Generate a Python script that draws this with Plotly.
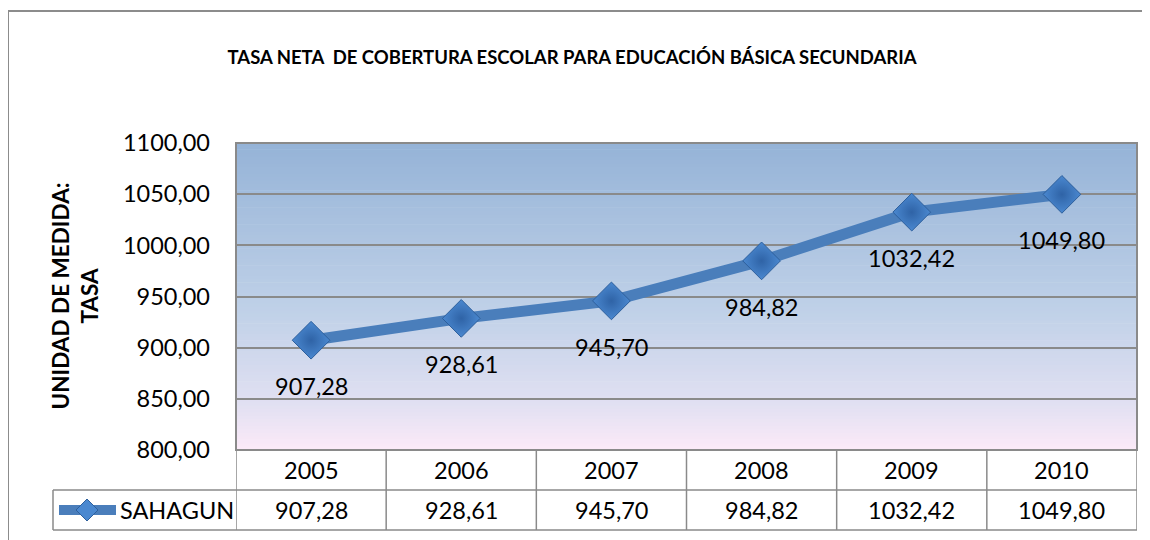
import plotly.graph_objects as go

years = ["2005", "2006", "2007", "2008", "2009", "2010"]
sahagun = [907.28, 928.61, 945.70, 984.82, 1032.42, 1049.80]
series_name = "SAHAGUN"
title_text = "TASA NETA  DE COBERTURA ESCOLAR PARA EDUCACIÓN BÁSICA SECUNDARIA"
ytitle = "UNIDAD DE MEDIDA:<br>TASA"

FONT = "Lato"
OFF = 8  # page body margin
W, H = 1150 - OFF, 540 - OFF
L, R, T, B = 236 - OFF, 13, 143 - OFF, 90
PW, PH = W - L - R, H - T - B


def px_x(x):
    return (x - OFF - L) / PW


def px_y(y):
    return (H - B - (y - OFF)) / PH


def fmt(v):
    return f"{v:.2f}".replace(".", ",")


fig = go.Figure()
fig.add_trace(go.Scatter(
    x=years, y=sahagun, mode="lines+markers", name=series_name,
    line=dict(color="#4A7EBB", width=11),
    marker=dict(symbol="diamond", size=29, color="#4A88D0",
                gradient=dict(type="radial", color="#2F63A6"),
                line=dict(color="#2D5F9C", width=1)),
    showlegend=False, cliponaxis=False,
))

shapes = []
stops = [(0.0, (252, 234, 248)), (0.15, (225, 224, 242)), (0.45, (192, 209, 232)), (1.0, (149, 179, 215))]


def col(t):
    for i in range(len(stops) - 1):
        t0, c0 = stops[i]
        t1, c1 = stops[i + 1]
        if t0 <= t <= t1:
            f = (t - t0) / (t1 - t0)
            return "rgb(%d,%d,%d)" % tuple(round(c0[k] + (c1[k] - c0[k]) * f) for k in range(3))
    return "rgb(%d,%d,%d)" % stops[-1][1]


N = 90
for i in range(N):
    shapes.append(dict(type="rect", xref="x domain", yref="y domain", x0=0, x1=1,
                       y0=i / N, y1=(i + 1) / N + 0.002, fillcolor=col((i + 0.5) / N),
                       line=dict(width=0), layer="below"))

grid = "#8A8A8A"
shapes.append(dict(type="rect", xref="paper", yref="paper", x0=0, x1=1, y0=0, y1=1,
                   line=dict(color=grid, width=2)))
shapes.append(dict(type="line", xref="paper", yref="paper", x0=px_x(8), x1=px_x(8),
                   y0=px_y(11), y1=px_y(560), line=dict(color="#8C8C8C", width=2)))
shapes.append(dict(type="line", xref="paper", yref="paper", x0=px_x(8), x1=px_x(1170),
                   y0=px_y(11), y1=px_y(11), line=dict(color="#8C8C8C", width=2)))

n = len(years)
row1_top, row_mid, row2_bot = 0, px_y(490), px_y(530)
leg_left = px_x(53)
for i in range(n + 1):
    shapes.append(dict(type="line", xref="x", yref="paper", x0=i - 0.5, x1=i - 0.5,
                       y0=row1_top, y1=row2_bot, line=dict(color=grid, width=1.5)))
shapes.append(dict(type="line", xref="paper", yref="paper", x0=leg_left, x1=1,
                   y0=row_mid, y1=row_mid, line=dict(color=grid, width=1.5)))
shapes.append(dict(type="line", xref="paper", yref="paper", x0=leg_left, x1=1,
                   y0=row2_bot, y1=row2_bot, line=dict(color=grid, width=1.5)))
shapes.append(dict(type="line", xref="paper", yref="paper", x0=leg_left, x1=leg_left,
                   y0=row_mid, y1=row2_bot, line=dict(color=grid, width=1.5)))
shapes.append(dict(type="line", xref="paper", yref="paper", x0=px_x(59), x1=px_x(116),
                   y0=px_y(510), y1=px_y(510), line=dict(color="#4A7EBB", width=10)))
shapes.append(dict(type="path", xref="paper", yref="paper", xsizemode="pixel", ysizemode="pixel",
                   xanchor=px_x(87), yanchor=px_y(510),
                   path="M 0,-11 L 11,0 L 0,11 L -11,0 Z",
                   fillcolor="#4A88D0", line=dict(color="#2D5F9C", width=1)))

txt = dict(family=FONT, size=23.5, color="black")
annotations = []
for i, (yr, v) in enumerate(zip(years, sahagun)):
    annotations.append(dict(x=i, y=v, xref="x", yref="y", text=fmt(v), showarrow=False,
                            yanchor="middle", yshift=-46, font=txt))
    annotations.append(dict(x=i, y=(row1_top + row_mid) / 2, xref="x", yref="paper", text=yr,
                            yanchor="middle", showarrow=False, font=txt))
    annotations.append(dict(x=i, y=(row_mid + row2_bot) / 2, xref="x", yref="paper", text=fmt(v),
                            yanchor="middle", showarrow=False, font=txt))
annotations.append(dict(x=px_x(118), y=(row_mid + row2_bot) / 2, xref="paper", yref="paper",
                        text=series_name, showarrow=False, xanchor="left", yanchor="middle",
                        font=txt))
annotations.append(dict(x=px_x(74), y=0.5, xref="paper", yref="paper", text="<b>" + ytitle + "</b>",
                        showarrow=False, textangle=-90, xanchor="center", yanchor="middle",
                        font=dict(family=FONT, size=22.5, color="black")))

fig.update_layout(
    width=W, height=H, margin=dict(l=L, r=R, t=T, b=B, pad=0),
    paper_bgcolor="white", plot_bgcolor="rgba(0,0,0,0)",
    separators=",.",
    title=dict(text="<b>" + title_text + "</b>", x=(572 - OFF) / W, y=1 - (58 - OFF) / H,
               xref="container", yref="container", xanchor="center", yanchor="middle",
               font=dict(family=FONT, size=18.5, color="black")),
    xaxis=dict(type="category", range=[-0.5, n - 0.5], showticklabels=False, showgrid=False,
               zeroline=False, showline=False, ticks=""),
    yaxis=dict(range=[800, 1100], dtick=50, tickformat=".2f", showgrid=True, gridcolor=grid,
               gridwidth=2, zeroline=False, showline=False, ticks="", ticklabelstandoff=25,
               tickfont=dict(family=FONT, size=23.5, color="black")),
    shapes=shapes, annotations=annotations,
    font=dict(family=FONT),
)

fig.write_html("out.html")
